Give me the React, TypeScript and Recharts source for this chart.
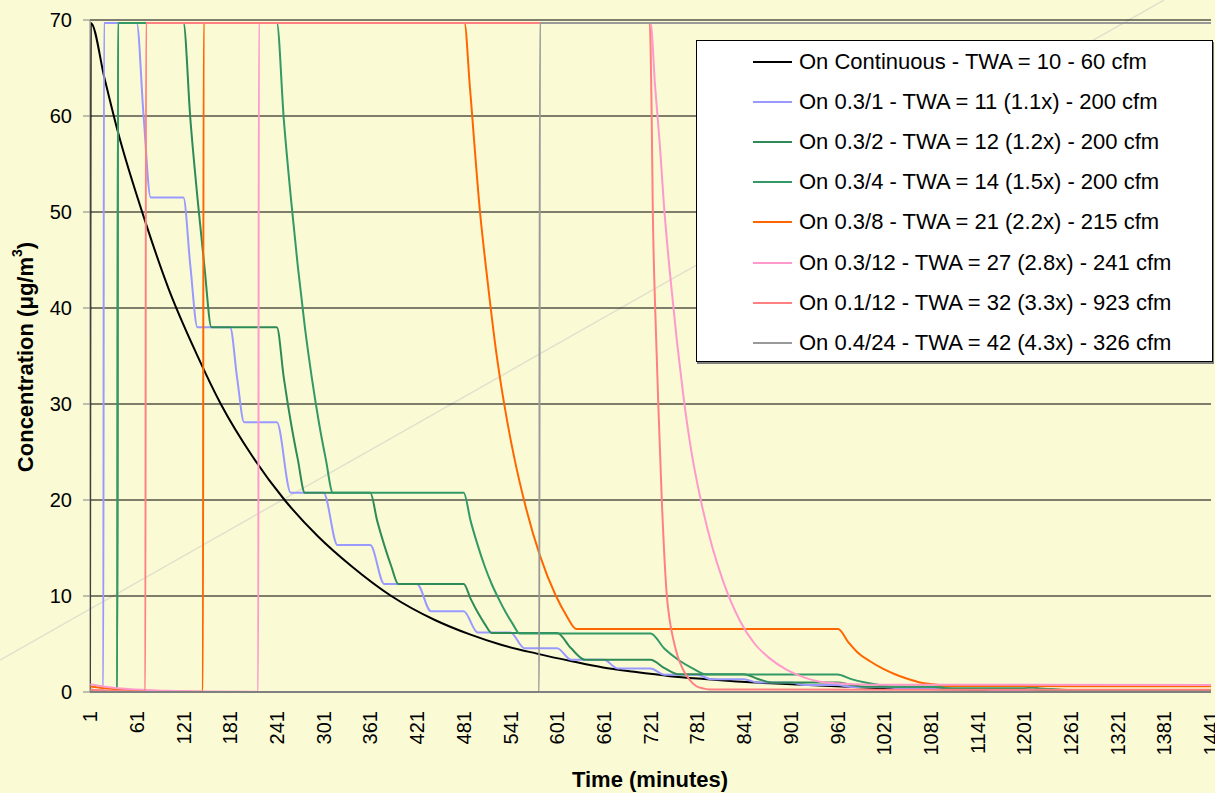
import { LineChart, Line, XAxis, YAxis, CartesianGrid, Legend } from "recharts";

const FONT = '"Liberation Sans", Arial, sans-serif';
const BG = "#FAFBD5";

const xTicks = [
  1, 61, 121, 181, 241, 301, 361, 421, 481, 541, 601, 661, 721, 781, 841, 901, 961, 1021, 1081, 1141, 1201,
  1261, 1321, 1381, 1441,
];
const yTicks = [0, 10, 20, 30, 40, 50, 60, 70];

// [minute, concentration]
const continuous = [
  [1, 0], [2, 69.7], [20, 63.8], [37, 58.3], [72, 49], [102, 42], [138, 35.2], [169, 30], [210, 24.5],
  [251, 20], [294, 16.2], [337, 13.1], [388, 10], [444, 7.5], [489, 6], [530, 4.9], [575, 4], [620, 3.2],
  [660, 2.55], [700, 2.1], [746, 1.65], [790, 1.35], [832, 1.1], [875, 0.9], [917, 0.75], [960, 0.6],
  [1003, 0.45], [1100, 0.28], [1200, 0.17], [1320, 0.1], [1441, 0.05],
];

const on03of1 = [
  [1, 0.25], [18, 0.15], [19, 69.7], [61, 69.7], [70, 59.8], [79, 51.5], [121, 51.5], [130, 44.3], [139, 38],
  [181, 38], [190, 32.7], [199, 28.1], [241, 28.1], [259, 20.75], [301, 20.75], [319, 15.3], [361, 15.3],
  [379, 11.25], [421, 11.25], [439, 8.4], [481, 8.4], [499, 6.2], [541, 6.2], [559, 4.57], [601, 4.57],
  [619, 3.36], [661, 3.36], [679, 2.45], [721, 2.45], [739, 1.8], [781, 1.8], [799, 1.33], [841, 1.33],
  [859, 0.98], [901, 0.98], [919, 0.72], [961, 0.72], [979, 0.53], [1021, 0.53], [1039, 0.39], [1081, 0.39],
  [1099, 0.29], [1141, 0.29], [1159, 0.21], [1201, 0.21], [1219, 0.16], [1261, 0.16], [1279, 0.12],
  [1321, 0.12], [1339, 0.09], [1381, 0.09], [1399, 0.07], [1441, 0.07],
];

const on03of2 = [
  [1, 0.1], [36, 0.05], [37, 69.7], [121, 69.7], [130, 59.6], [139, 51.5], [148, 44.3], [157, 38], [241, 38],
  [250, 32.7], [259, 28.1], [268, 24.2], [277, 20.75], [361, 20.75], [370, 17.8], [379, 15.3], [388, 13.1],
  [397, 11.25], [481, 11.25], [490, 9.7], [499, 8.3], [508, 7.1], [517, 6.15], [601, 6.15], [619, 4.55],
  [637, 3.36], [721, 3.36], [739, 2.48], [757, 1.84], [841, 1.84], [859, 1.36], [877, 1.0], [961, 1.0],
  [979, 0.74], [997, 0.55], [1081, 0.55], [1099, 0.4], [1117, 0.3], [1201, 0.3], [1219, 0.22], [1237, 0.16],
  [1321, 0.16], [1339, 0.12], [1357, 0.09], [1441, 0.09],
];

const on03of4 = [
  [1, 0.1], [36, 0.05], [37, 69.7], [241, 69.7], [250, 59.6], [259, 51.5], [268, 44.3], [277, 38],
  [286, 32.7], [295, 28.1], [304, 24.2], [313, 20.75], [481, 20.75], [490, 17.8], [499, 15.3], [508, 13.1],
  [517, 11.25], [526, 9.7], [535, 8.3], [544, 7.1], [553, 6.1], [721, 6.1], [739, 4.5], [757, 3.33],
  [775, 2.46], [793, 1.82], [961, 1.82], [979, 1.34], [997, 0.99], [1015, 0.73], [1033, 0.54], [1201, 0.54],
  [1219, 0.4], [1237, 0.3], [1255, 0.22], [1273, 0.16], [1441, 0.16],
];

const on03of8 = [
  [1, 0.58], [20, 0.4], [50, 0.2], [100, 0.08], [146, 0.03], [147, 69.7], [482, 69.7], [489, 63],
  [502, 50], [512, 42.6], [523, 35.3], [532, 30.5], [545, 24.8], [560, 19.5], [579, 14.2], [599, 10.1],
  [612, 8.1], [626, 6.55], [962, 6.55], [975, 5.2], [986, 4.2], [1003, 3.2], [1020, 2.4], [1035, 1.85],
  [1050, 1.4], [1067, 1.0], [1084, 0.8], [1106, 0.62], [1441, 0.6],
];

const on03of12 = [
  [1, 0.8], [20, 0.55], [50, 0.3], [100, 0.12], [150, 0.05], [217, 0.02], [218, 69.7], [721, 69.7],
  [727, 63], [733, 57], [738, 51], [746, 43.6], [755, 36.5], [763, 31], [773, 25.3], [785, 20.2], [800, 15.2],
  [814, 11.6], [836, 7.4], [855, 5.0], [875, 3.45], [895, 2.35], [917, 1.55], [937, 1.1], [960, 0.9],
  [980, 0.8], [1003, 0.76], [1441, 0.73],
];

const on01of12 = [
  [1, 0.24], [40, 0.1], [72, 0.05], [73, 69.7], [720, 69.7], [722.5, 60], [724, 50], [727, 40], [729, 35],
  [731, 30], [735.5, 20], [742, 10], [746, 7.3], [750.5, 5.4], [756, 3.7], [763, 2.3], [771, 1.3],
  [780, 0.6], [790, 0.35], [797, 0.25], [1441, 0.24],
];

const on04of24 = [[1, 0], [578, 0], [579, 69.7], [1441, 69.7]];

const series = [
  { name: "On Continuous - TWA = 10 - 60 cfm", color: "#000000", rows: continuous },
  { name: "On 0.3/1 - TWA = 11 (1.1x) - 200 cfm", color: "#9999FF", rows: on03of1 },
  { name: "On 0.3/2 - TWA = 12 (1.2x) - 200 cfm", color: "#2E8B57", rows: on03of2 },
  { name: "On 0.3/4 - TWA = 14 (1.5x) - 200 cfm", color: "#339966", rows: on03of4 },
  { name: "On 0.3/8 - TWA = 21 (2.2x) - 215 cfm", color: "#FF6600", rows: on03of8 },
  { name: "On 0.3/12 - TWA = 27 (2.8x) - 241 cfm", color: "#FF99CC", rows: on03of12 },
  { name: "On 0.1/12 - TWA = 32 (3.3x) - 923 cfm", color: "#FF8080", rows: on01of12 },
  { name: "On 0.4/24 - TWA = 42 (4.3x) - 326 cfm", color: "#999999", rows: on04of24 },
];

const XTick = ({ x, y, payload }: any) => (
  <text
    x={x}
    y={y + 19}
    transform={`rotate(-90, ${x}, ${y + 19})`}
    textAnchor="end"
    dy="0.36em"
    fontSize={20}
    fontFamily={FONT}
    fill="#000"
  >
    {payload.value}
  </text>
);

const LegendBox = () => (
  <div
    style={{
      width: 517,
      height: 322,
      boxSizing: "border-box",
      background: "#fff",
      border: "1px solid #000",
      boxShadow: "1px 2px 0 #808080",
      position: "relative",
      fontFamily: FONT,
      fontSize: 22,
      color: "#000",
    }}
  >
    {series.map((s, i) => (
      <div
        key={s.name}
        style={{
          position: "absolute",
          left: 56,
          top: 20.5 + 40.2 * i - 15,
          height: 30,
          display: "flex",
          alignItems: "center",
          whiteSpace: "nowrap",
        }}
      >
        <svg width={39} height={4}>
          <line x1={0} y1={2} x2={39} y2={2} stroke={s.color} strokeWidth={2} />
        </svg>
        <span style={{ marginLeft: 7 }}>{s.name}</span>
      </div>
    ))}
  </div>
);

export default function App() {
  return (
    <div style={{ position: "absolute", left: 0, top: 0, width: 1215, height: 793, background: BG, overflow: "hidden" }}>
      <svg width={1215} height={793} style={{ position: "absolute", left: 0, top: 0 }}>
        <line x1={0} y1={660} x2={1164} y2={0} stroke="#E2E2CC" strokeWidth={1.5} />
      </svg>
      <div style={{ position: "absolute", left: 0, top: 0 }}>
        <LineChart width={1215} height={793} margin={{ top: 20, right: 4, bottom: 31, left: 8 }}>
          <CartesianGrid horizontal vertical={false} stroke="#000" strokeWidth={1} />
          <XAxis
            dataKey="t"
            type="number"
            domain={[1, 1441]}
            ticks={xTicks}
            interval={0}
            height={70}
            tick={<XTick />}
            tickLine={false}
            tickSize={0}
            tickMargin={0}
            axisLine={{ stroke: "#808080", strokeWidth: 2 }}
            allowDataOverflow
            label={{
              content: () => (
                <text x={650} y={787} textAnchor="middle" fontSize={22} fontWeight="bold" fontFamily={FONT} fill="#000">
                  Time (minutes)
                </text>
              ),
            }}
          />
          <YAxis
            type="number"
            domain={[0, 70]}
            ticks={yTicks}
            interval={0}
            width={82}
            tickSize={7}
            tickMargin={11}
            tick={{ fontSize: 20, fontFamily: FONT, fill: "#000" }}
            axisLine={{ stroke: "#808080" }}
            tickLine={{ stroke: "#808080" }}
            allowDataOverflow
            label={{
              content: () => (
                <text
                  x={25}
                  y={357}
                  transform="rotate(-90, 25, 357)"
                  textAnchor="middle"
                  dominantBaseline="central"
                  fontSize={22}
                  fontWeight="bold"
                  fontFamily={FONT}
                  fill="#000"
                >
                  Concentration (μg/m
                  <tspan dy={-8} fontSize={14}>
                    3
                  </tspan>
                  <tspan dy={8}>)</tspan>
                </text>
              ),
            }}
          />
          <Legend
            layout="vertical"
            align="center"
            verticalAlign="middle"
            content={<LegendBox />}
            wrapperStyle={{ position: "absolute", left: 696, top: 40, width: 517, height: 322 }}
          />
          {series.map((s) => (
            <Line
              key={s.name}
              name={s.name}
              data={s.rows.map(([t, v]) => ({ t, v }))}
              dataKey="v"
              type="monotone"
              stroke={s.color}
              strokeWidth={2}
              dot={false}
              activeDot={false}
              isAnimationActive={false}
            />
          ))}
        </LineChart>
      </div>
    </div>
  );
}
